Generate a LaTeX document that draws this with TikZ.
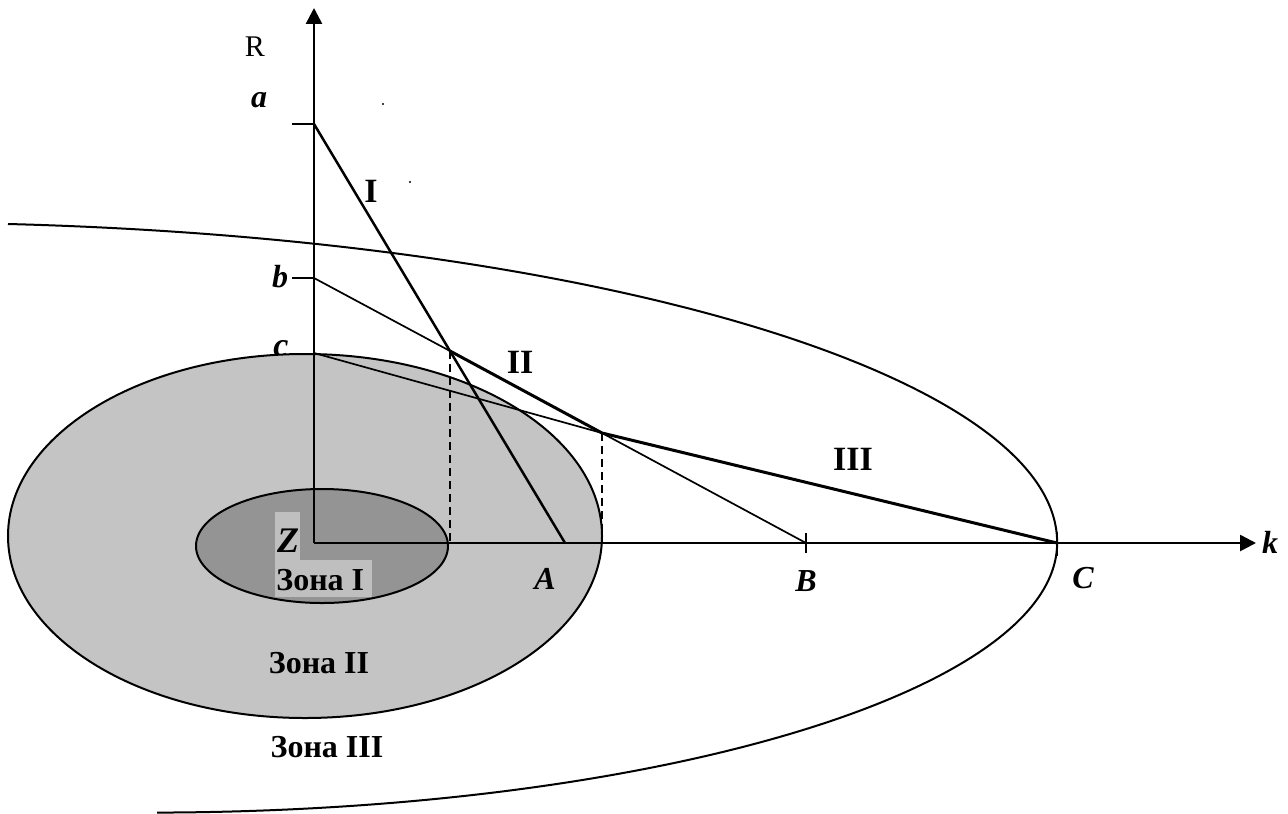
\documentclass[tikz,border=0pt]{standalone}
\usepackage{fontspec}
\setmainfont{Liberation Serif}
\usetikzlibrary{arrows.meta}
\begin{document}
\begin{tikzpicture}[x=0.5pt,y=-0.5pt,
  axisline/.style={line width=1.3pt,-{Triangle[length=8pt,width=8pt]}},
  thinline/.style={line width=0.85pt},
  midline/.style={line width=1.25pt},
  boldline/.style={line width=1.5pt},
  curveline/.style={line width=1pt},
  dashline/.style={line width=0.85pt,dash pattern=on 4pt off 2.5pt},
  lbl/.style={inner sep=0pt,anchor=base,font=\fontsize{16}{19}\selectfont\bfseries\itshape},
  rom/.style={inner sep=0pt,anchor=base,font=\fontsize{17}{20}\selectfont\bfseries},
  zone/.style={inner sep=0pt,anchor=base,font=\fontsize{16}{19}\selectfont\bfseries}]
\useasboundingbox (0,0) rectangle (1288,813);

% key points
\coordinate (O) at (314,543);
\coordinate (ytip) at (314,8);
\coordinate (xtip) at (1256,543);
\coordinate (a) at (314,124);
\coordinate (b) at (314,278);
\coordinate (c) at (314,353);
\coordinate (A) at (565,543);
\coordinate (B) at (806,543);
\coordinate (C) at (1057,543);
\coordinate (P1) at (450,351);
\coordinate (P2) at (602,433);
\coordinate (P1f) at (450,543);
\coordinate (P2f) at (602,543);
\coordinate (ta) at (292,124);
\coordinate (tb) at (292,278);
\coordinate (tBu) at (806,533);
\coordinate (tBd) at (806,553);
\coordinate (tCu) at (1057,532);
\coordinate (tCd) at (1057,556);
\coordinate (z3start) at (8,224);

% zone III boundary
\draw[curveline] (z3start)
  arc[start angle=-84.65, end angle=0, x radius=1157, y radius=320]
  arc[start angle=0, end angle=89.56, x radius=907, y radius=270];

% label c (partly hidden by zone II)
\node[lbl,font=\fontsize{17}{20}\selectfont\bfseries\itshape] (lc) at (281,356) {c};

% zones
\draw[curveline,fill=black!23] (305,536) ellipse [x radius=297, y radius=182];
\draw[curveline,fill=black!42] (322,546) ellipse [x radius=126, y radius=57];
\fill[black!25] (275,512) rectangle (300,560);
\fill[black!25] (275,560) rectangle (372,597);

% axes
\draw[axisline] (O) -- (ytip);
\draw[axisline] (O) -- (xtip);

% ticks
\draw[thinline] (ta) -- (a);
\draw[thinline] (tb) -- (b);
\draw[thinline] (tBu) -- (tBd);
\draw[thinline] (tCu) -- (tCd);

% lines
\draw[midline] (a) -- (A);
\draw[thinline] (b) -- (P1);
\draw[boldline] (P1) -- (P2);
\draw[thinline] (P2) -- (B);
\draw[thinline] (c) -- (P2);
\draw[boldline] (P2) -- (C);

% dashed projections
\draw[dashline] (P1) -- (P1f);
\draw[dashline] (P2) -- (P2f);

% stray dots
\fill (383,104) circle [radius=1.2];
\fill (410,182) circle [radius=1.2];

% labels
\node[inner sep=0pt,anchor=base,font=\fontsize{15}{18}\selectfont] (lR) at (255,57) {R};
\node[lbl] (la) at (259,107) {a};
\node[lbl] (lb) at (280,287) {b};
\node[rom] (lI) at (371,202) {I};
\node[rom] (lII) at (520,373) {II};
\node[rom] (lIII) at (853,470) {III};
\node[lbl,font=\fontsize{18}{21}\selectfont\bfseries\itshape] (lZ) at (288,552) {Z};
\node[lbl] (lA) at (545,589) {A};
\node[lbl] (lB) at (806,591) {B};
\node[lbl] (lC) at (1083,588) {C};
\node[lbl] (lk) at (1270,553) {k};
\node[zone,anchor=base west] (z1) at (276,590) {Зона I};
\node[zone] (z2) at (319,673) {Зона II};
\node[zone] (z3) at (327,757) {Зона III};
\end{tikzpicture}
\end{document}
